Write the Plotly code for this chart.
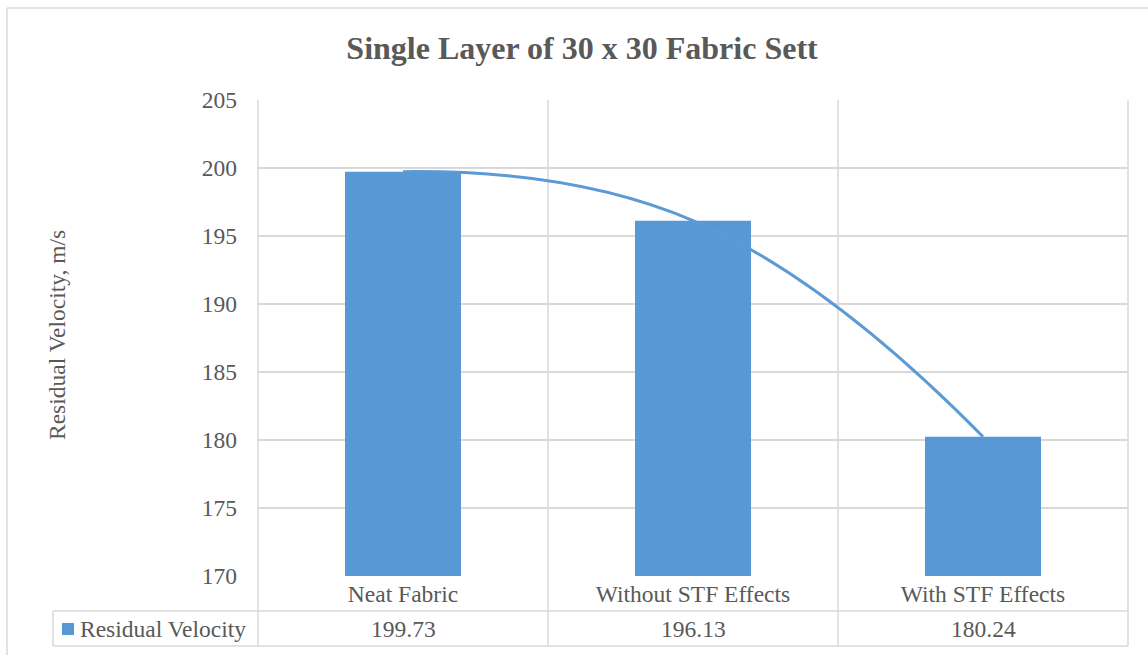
import plotly.graph_objects as go

# Data
categories = ["Neat Fabric", "Without STF Effects", "With STF Effects"]
residual_velocity = [199.73, 196.13, 180.24]
series_name = "Residual Velocity"
y_ticks = [170, 175, 180, 185, 190, 195, 200, 205]

FONT = "Liberation Serif, Times New Roman, serif"
TEXT = "#595959"
GRID = "#d9d9d9"
BLUE = "#5b9bd5"
BAR = "#5898d4"

W, H = 1148, 655
L, R, T, B = 258, 20, 100, 79
PW, PH = W - L - R, H - T - B


def px(x):
    return (x - L) / PW


def py(y):
    return (H - B - y) / PH


fig = go.Figure()

fig.add_trace(go.Bar(
    x=categories, y=residual_velocity, name=series_name,
    width=0.4, marker=dict(color=BAR, line=dict(width=0)),
    showlegend=False,
))
fig.add_trace(go.Scatter(
    x=categories, y=residual_velocity, mode="lines",
    line=dict(color=BLUE, width=3, shape="spline", smoothing=1.3),
    showlegend=False, hoverinfo="skip",
))

shapes = []
line = dict(color=GRID, width=1.5)
# vertical category boundaries, running down through the data table
for i in range(len(categories) + 1):
    shapes.append(dict(type="line", xref="paper", yref="paper",
                       x0=i / len(categories), x1=i / len(categories),
                       y0=1, y1=py(646), line=line, layer="below"))
# data-table rows
for yy in (611, 646):
    shapes.append(dict(type="line", xref="paper", yref="paper",
                       x0=px(53), x1=1, y0=py(yy), y1=py(yy), line=line))
shapes.append(dict(type="line", xref="paper", yref="paper",
                   x0=px(53), x1=px(53), y0=py(611), y1=py(646), line=line))
# chart frame
shapes.append(dict(type="line", xref="paper", yref="paper",
                   x0=px(7), x1=px(7), y0=py(8), y1=py(660), line=line))
shapes.append(dict(type="line", xref="paper", yref="paper",
                   x0=px(7), x1=px(1160), y0=py(8), y1=py(8), line=line))
# legend key
shapes.append(dict(type="rect", xref="paper", yref="paper",
                   x0=px(62), x1=px(74), y0=py(623), y1=py(635),
                   fillcolor=BAR, line=dict(width=0)))

annotations = [
    dict(text=series_name, xref="paper", yref="paper", x=px(78), y=py(628.5),
         xanchor="left", yanchor="middle", showarrow=False,
         font=dict(family=FONT, size=23.5, color=TEXT)),
    dict(text="Residual Velocity, m/s", xref="paper", yref="paper",
         x=px(57), y=py(335), xanchor="center", yanchor="middle",
         textangle=-90, showarrow=False,
         font=dict(family=FONT, size=23.5, color=TEXT)),
]
for c, v in zip(categories, residual_velocity):
    annotations.append(dict(text=f"{v:.2f}", xref="x", yref="paper", x=c,
                            y=py(628.5), xanchor="center", yanchor="middle",
                            showarrow=False,
                            font=dict(family=FONT, size=23.5, color=TEXT)))

fig.update_layout(
    width=W, height=H,
    margin=dict(l=L, r=R, t=T, b=B),
    paper_bgcolor="white", plot_bgcolor="white",
    font=dict(family=FONT, size=23.5, color=TEXT),
    title=dict(text="<b>Single Layer of 30 x 30 Fabric Sett</b>",
               x=0.507, xanchor="center", y=1 - 48 / H, yanchor="middle",
               yref="container",
               font=dict(family=FONT, size=32, color=TEXT)),
    bargap=0.6,
    shapes=shapes,
    annotations=annotations,
)
fig.update_xaxes(
    type="category", range=[-0.5, 2.5], showgrid=False, showline=False,
    zeroline=False, ticks="", ticklabelstandoff=1,
    tickfont=dict(family=FONT, size=23.5, color=TEXT),
)
fig.update_yaxes(
    range=[170, 205], tickvals=y_ticks, showgrid=True, gridcolor=GRID,
    gridwidth=1.5, zeroline=False, showline=False, ticks="",
    ticklabelstandoff=20,
    tickfont=dict(family=FONT, size=23.5, color=TEXT),
)

fig.write_html("out.html")
